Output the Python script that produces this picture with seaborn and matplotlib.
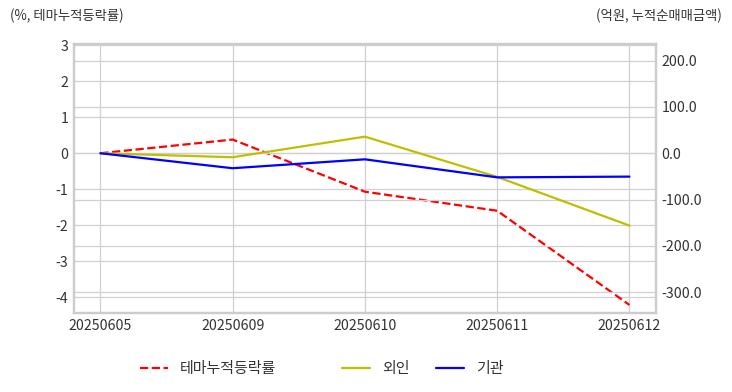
import numpy as np
import pandas as pd
import matplotlib
matplotlib.use('Agg')
import matplotlib.pyplot as plt
import seaborn as sns

dates = ['20250605', '20250609', '20250610', '20250611', '20250612']
theme_ret = [0.0, 0.38, -1.07, -1.60, -4.22]
foreign = [0.0, -8.6, 35.8, -51.0, -156.0]
inst = [0.0, -32.3, -13.1, -52.0, -50.4]

left_ticks = [-4, -3, -2, -1, 0, 1, 2, 3]
right_ticks = [-300, -200, -100, 0, 100, 200]

sns.set_style('whitegrid')
plt.rcParams['font.family'] = ['Noto Sans CJK KR', 'DejaVu Sans']
plt.rcParams['axes.unicode_minus'] = False

df = pd.DataFrame({'date': dates, 'theme': theme_ret, 'foreign': foreign, 'inst': inst})

fig = plt.figure(figsize=(7.32, 3.92), dpi=100)
ax = fig.add_axes([0.101, 0.201, 0.795, 0.686])
ax2 = ax.twinx()

sns.lineplot(data=df, x='date', y='theme', ax=ax, color='r', linestyle='--', linewidth=1.6,
             sort=False, label='테마누적등락률', legend=False)
sns.lineplot(data=df, x='date', y='foreign', ax=ax2, color='y', linewidth=1.6, sort=False,
             label='외인', legend=False)
sns.lineplot(data=df, x='date', y='inst', ax=ax2, color='b', linewidth=1.6, sort=False,
             label='기관', legend=False)

ax.set_xlim(-0.2, 4.2)
ax.set_ylim(-4.45, 3.03)
ax2.set_ylim(-345, 235)
ax.set_yticks(left_ticks)
ax.set_yticklabels([str(t) for t in left_ticks])
ax2.set_yticks(right_ticks)
ax2.set_yticklabels([f'{t:.1f}' for t in right_ticks])

grid_kw = dict(color='#d0d0d0', linewidth=0.9)
ax.grid(True, **grid_kw)
ax2.grid(True, axis='y', **grid_kw)
ax2.grid(False, axis='x')

for a in (ax, ax2):
    a.set_xlabel('')
    a.set_ylabel('')
    a.tick_params(length=0, labelsize=10.2, colors='#333333', pad=4)
    for s in a.spines.values():
        s.set_color('#cccccc')
        s.set_linewidth(1.6)

fig.text(10 / 732, 1 - 16 / 392, '(%, 테마누적등락률)', fontsize=9.6, color='#333333',
         ha='left', va='center')
fig.text(722 / 732, 1 - 16 / 392, '(억원, 누적순매매금액)', fontsize=9.6, color='#333333',
         ha='right', va='center')

h1, l1 = ax.get_legend_handles_labels()
h2, l2 = ax2.get_legend_handles_labels()
leg_kw = dict(frameon=False, fontsize=10.8, handlelength=1.85, handletextpad=0.8,
              borderaxespad=0, borderpad=0, labelcolor='#333333')
fig.legend(h1, l1, loc='center left', bbox_to_anchor=(140 / 732, 1 - 369 / 392), **leg_kw)
fig.legend(h2, l2, loc='center left', bbox_to_anchor=(342 / 732, 1 - 369 / 392), ncol=2,
           columnspacing=1.8, **leg_kw)

fig.savefig('out.png', dpi=100, facecolor='w')
